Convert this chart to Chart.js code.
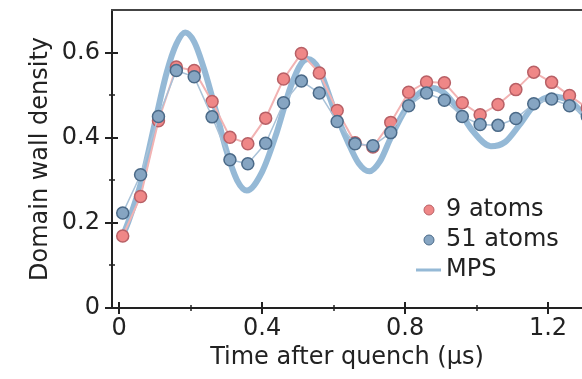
<!DOCTYPE html>
<html>
<head>
<meta charset="utf-8">
<script src="https://cdn.jsdelivr.net/npm/chart.js@4"></script>
<style>
  html, body { margin: 0; padding: 0; background: #fff; }
  canvas { display: block; }
</style>
</head>
<body>
<canvas id="chart" width="582" height="379"></canvas>
<script>
// measured times (us)
const times = [0.01, 0.06, 0.11, 0.16, 0.21, 0.26, 0.31, 0.36, 0.41, 0.46, 0.51, 0.56, 0.61,
  0.66, 0.71, 0.76, 0.81, 0.86, 0.91, 0.96, 1.01, 1.06, 1.11, 1.16, 1.21, 1.26, 1.31];
const atoms9 = [0.169, 0.262, 0.44, 0.566, 0.558, 0.485, 0.401, 0.386, 0.446, 0.538, 0.598, 0.552, 0.464,
  0.388, 0.378, 0.436, 0.507, 0.531, 0.529, 0.482, 0.454, 0.478, 0.513, 0.554, 0.530, 0.499, 0.47];
const atoms51 = [0.223, 0.313, 0.45, 0.558, 0.543, 0.449, 0.348, 0.339, 0.387, 0.482, 0.533, 0.505, 0.438,
  0.386, 0.381, 0.412, 0.475, 0.505, 0.488, 0.450, 0.431, 0.429, 0.445, 0.480, 0.491, 0.475, 0.45];

// MPS theory curve
const mpsT = [0.01, 0.026, 0.063, 0.10, 0.133, 0.16, 0.185, 0.21, 0.24, 0.27, 0.30, 0.33, 0.357,
  0.40, 0.44, 0.48, 0.51, 0.528, 0.56, 0.60, 0.64, 0.67, 0.70, 0.73, 0.76, 0.80, 0.84, 0.875,
  0.91, 0.95, 0.99, 1.04, 1.08, 1.12, 1.16, 1.21, 1.26, 1.30];
const mpsY = [0.17, 0.203, 0.30, 0.435, 0.553, 0.62, 0.647, 0.625, 0.555, 0.465, 0.37, 0.30, 0.276,
  0.32, 0.41, 0.52, 0.575, 0.585, 0.56, 0.47, 0.39, 0.34, 0.321, 0.345, 0.40, 0.465, 0.505, 0.517,
  0.505, 0.465, 0.415, 0.38, 0.39, 0.43, 0.475, 0.497, 0.487, 0.455];

const xTicks = [0, 0.4, 0.8, 1.2];
const xMinor = [0.2, 0.6, 1.0];
const yTicks = [0, 0.2, 0.4, 0.6];
const yMinor = [0.1, 0.3, 0.5];

const legendItems = ['9 atoms', '51 atoms', 'MPS'];

const FONT = 'DejaVu Sans';
const red = '#ef8787', redEdge = '#b86066', redLine = '#f2b3b3';
const blue = '#86a5c2', blueEdge = '#4b6a88', blueLine = '#a9c2d8';
const mpsColor = 'rgba(138,177,210,0.9)';

function pts(xs, ys) { return xs.map((x, i) => ({ x: x, y: ys[i] })); }

// crossing tick marks + top frame line
const axisDecor = {
  id: 'axisDecor',
  afterDraw(chart) {
    const { ctx, chartArea: { left, right, top, bottom }, scales: { x, y } } = chart;
    ctx.save();
    ctx.strokeStyle = '#222';
    ctx.lineWidth = 2;
    xTicks.forEach(v => {
      const px = Math.round(x.getPixelForValue(v));
      ctx.beginPath(); ctx.moveTo(px, bottom - 6); ctx.lineTo(px, bottom + 6); ctx.stroke();
    });
    yTicks.forEach(v => {
      const py = Math.round(y.getPixelForValue(v));
      ctx.beginPath(); ctx.moveTo(left - 7, py); ctx.lineTo(left + 6, py); ctx.stroke();
    });
    ctx.lineWidth = 1.5;
    xMinor.forEach(v => {
      const px = Math.round(x.getPixelForValue(v));
      ctx.beginPath(); ctx.moveTo(px, bottom - 3); ctx.lineTo(px, bottom + 3); ctx.stroke();
    });
    yMinor.forEach(v => {
      const py = Math.round(y.getPixelForValue(v));
      ctx.beginPath(); ctx.moveTo(left - 3, py); ctx.lineTo(left + 3, py); ctx.stroke();
    });
    // top frame
    ctx.strokeStyle = '#444';
    ctx.lineWidth = 2;
    ctx.beginPath(); ctx.moveTo(left - 1, top); ctx.lineTo(right, top); ctx.stroke();
    ctx.restore();
  }
};

// legend drawn inside the plot
const insideLegend = {
  id: 'insideLegend',
  afterDraw(chart) {
    const { ctx } = chart;
    ctx.save();
    ctx.font = '24px "' + FONT + '"';
    ctx.textBaseline = 'middle';
    const x0 = 429, tx = 446, y0 = 210, dy = 30;
    ctx.beginPath(); ctx.arc(x0, y0, 5, 0, Math.PI * 2);
    ctx.fillStyle = red; ctx.fill(); ctx.strokeStyle = redEdge; ctx.lineWidth = 1; ctx.stroke();
    ctx.beginPath(); ctx.arc(x0, y0 + dy, 5, 0, Math.PI * 2);
    ctx.fillStyle = blue; ctx.fill(); ctx.strokeStyle = blueEdge; ctx.stroke();
    ctx.beginPath(); ctx.moveTo(416, y0 + 2 * dy); ctx.lineTo(441, y0 + 2 * dy);
    ctx.strokeStyle = mpsColor; ctx.lineWidth = 3; ctx.stroke();
    ctx.fillStyle = '#222';
    legendItems.forEach((t, i) => ctx.fillText(t, tx, y0 + i * dy));
    ctx.restore();
  }
};

const config = {
  type: 'line',
  data: {
    datasets: [
      {
        label: 'MPS',
        data: pts(mpsT, mpsY),
        borderColor: mpsColor,
        borderWidth: 6,
        pointRadius: 0,
        cubicInterpolationMode: 'monotone',
        order: 3
      },
      {
        label: '9 atoms',
        data: pts(times, atoms9),
        borderColor: redLine,
        borderWidth: 2,
        pointRadius: 6,
        pointBackgroundColor: red,
        pointBorderColor: redEdge,
        pointBorderWidth: 1.5,
        order: 2
      },
      {
        label: '51 atoms',
        data: pts(times, atoms51),
        borderColor: blueLine,
        borderWidth: 1.5,
        pointRadius: 6,
        pointBackgroundColor: blue,
        pointBorderColor: blueEdge,
        pointBorderWidth: 1.5,
        order: 1
      }
    ]
  },
  options: {
    responsive: false,
    animation: false,
    layout: { autoPadding: false, padding: { top: 10, right: 0, left: 0, bottom: 0 } },
    plugins: { legend: { display: false }, tooltip: { enabled: false } },
    scales: {
      x: {
        type: 'linear',
        min: -0.02,
        max: 1.295,
        afterBuildTicks: s => { s.ticks = xTicks.map(v => ({ value: v })); },
        afterFit: s => { s.height = 71; s.paddingLeft = 0; s.paddingRight = 0; },
        grid: { display: false, drawTicks: false },
        border: { display: true, color: '#222', width: 2 },
        ticks: {
          padding: 6,
          color: '#222',
          font: { family: FONT, size: 24 },
          maxRotation: 0,
          callback: v => v === 0 ? '0' : v.toFixed(1)
        },
        title: {
          display: true,
          text: 'Time after quench (μs)',
          color: '#222',
          font: { family: FONT, size: 24 },
          padding: { top: 0, bottom: 7 }
        }
      },
      y: {
        min: 0,
        max: 0.7,
        afterBuildTicks: s => { s.ticks = yTicks.map(v => ({ value: v })); },
        afterFit: s => { s.width = 112; s.paddingTop = 0; s.paddingBottom = 0; },
        grid: { display: false, drawTicks: false },
        border: { display: true, color: '#222', width: 2 },
        ticks: {
          padding: 12,
          color: '#222',
          font: { family: FONT, size: 24 },
          callback: v => v === 0 ? '0' : v.toFixed(1)
        },
        title: {
          display: true,
          text: 'Domain wall density',
          color: '#222',
          font: { family: FONT, size: 24 },
          padding: { top: 26, bottom: 0 }
        }
      }
    }
  },
  plugins: [axisDecor, insideLegend]
};

new Chart(document.getElementById('chart').getContext('2d'), config);
</script>
</body>
</html>
